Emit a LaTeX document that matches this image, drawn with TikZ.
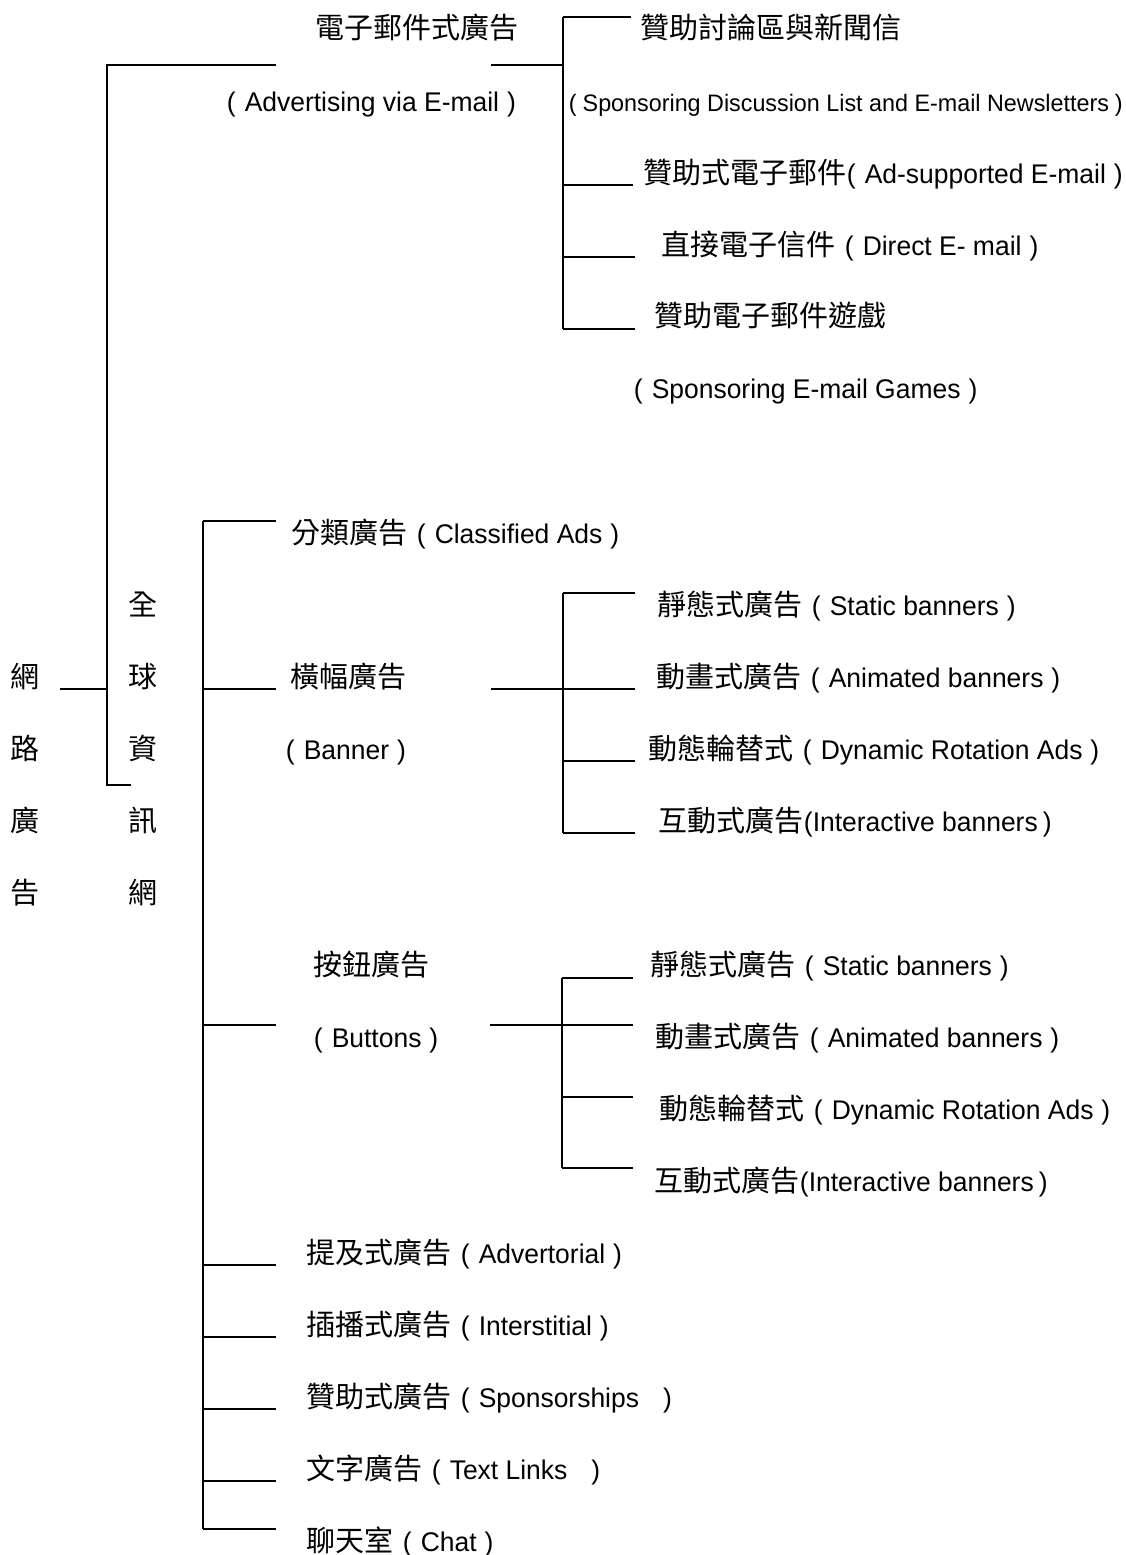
\documentclass[tikz,border=0pt]{standalone}
\usepackage{fontspec}
\setmainfont[FakeStretch=0.98]{Liberation Sans}
\newfontfamily\cjk{Noto Sans CJK TC}
\newcommand\zh[1]{{\cjk\fontsize{29}{34}\selectfont #1}}
\newcommand\LP{\hspace{9pt}(\hspace{9pt}}
\newcommand\LPo{(\hspace{9pt}}
\newcommand\RP{\hspace{8pt})}
\begin{document}
\begin{tikzpicture}[x=1pt,y=-1pt, line width=1.9pt,
  lbl/.style={anchor=west, inner sep=0pt, text height=21pt, text depth=0pt, font=\fontsize{27}{32}\selectfont},
  vch/.style={lbl, anchor=center}]
\useasboundingbox (0,0) rectangle (1126,1555);
% vertical titles
\foreach \y/\c [count=\i] in {677/網,749/路,821/廣,893/告} \node[vch] (n\i) at (25,\y) {\zh{\c}};
\foreach \y/\c [count=\i] in {605/全,677/球,749/資,821/訊,893/網} \node[vch] (w\i) at (143,\y) {\zh{\c}};
% e-mail branch
\node[lbl] (e0) at (315,28) {\zh{電子郵件式廣告}};
\node[lbl] (e0b) at (226,101) {\LPo Advertising via E-mail\RP};
\node[lbl] (e1) at (640,28) {\zh{贊助討論區與新聞信}};
\node[lbl,font=\fontsize{23.8}{29}\selectfont] (e1b) at (568,101) {(\hspace{6pt}Sponsoring Discussion List and E-mail Newsletters\hspace{6pt})};
\node[lbl] (e2) at (643,173) {\zh{贊助式電子郵件}(\hspace{9pt}Ad-supported E-mail\RP};
\node[lbl] (e3) at (661,245) {\zh{直接電子信件}\LP Direct E- mail\RP};
\node[lbl] (e4) at (654,316) {\zh{贊助電子郵件遊戲}};
\node[lbl] (e4b) at (633,388) {\LPo Sponsoring E-mail Games\RP};
% www branch
\node[lbl] (c1) at (291,533) {\zh{分類廣告}\LP Classified Ads\RP};
\node[lbl] (b0) at (290,677) {\zh{橫幅廣告}};
\node[lbl] (b0b) at (285,749) {\LPo Banner\RP};
\node[lbl] (b1) at (657,605) {\zh{靜態式廣告}\LP Static banners\RP};
\node[lbl] (b2) at (656,677) {\zh{動畫式廣告}\LP Animated banners\RP};
\node[lbl] (b3) at (648,749) {\zh{動態輪替式}\LP Dynamic Rotation Ads\RP};
\node[lbl] (b4) at (658,821) {\zh{互動式廣告}(Interactive banners\hspace{5pt})};
\node[lbl] (t0) at (313,965) {\zh{按鈕廣告}};
\node[lbl] (t0b) at (313,1037) {\LPo Buttons\RP};
\node[lbl] (t1) at (650,965) {\zh{靜態式廣告}\LP Static banners\RP};
\node[lbl] (t2) at (655,1037) {\zh{動畫式廣告}\LP Animated banners\RP};
\node[lbl] (t3) at (659,1109) {\zh{動態輪替式}\LP Dynamic Rotation Ads\RP};
\node[lbl] (t4) at (654,1181) {\zh{互動式廣告}(Interactive banners\hspace{5pt})};
\node[lbl] (a1) at (306,1253) {\zh{提及式廣告}\LP Advertorial\RP};
\node[lbl] (a2) at (306,1325) {\zh{插播式廣告}\LP Interstitial\RP};
\node[lbl] (a3) at (306,1397) {\zh{贊助式廣告}\LP Sponsorships\hspace{24pt})};
\node[lbl] (a4) at (306,1469) {\zh{文字廣告}\LP Text Links\hspace{24pt})};
\node[lbl] (a5) at (306,1541) {\zh{聊天室}\LP Chat\RP};
% connectors
\coordinate (rootL) at (60,689); \coordinate (rootJ) at (107,689);
\coordinate (topJ) at (107,65); \coordinate (botJ) at (107,785); \coordinate (botE) at (131,785);
\coordinate (emL) at (276,65); \coordinate (emR) at (491,65); \coordinate (emJ) at (563,65);
\draw (rootL) -- (rootJ);
\draw (emL) -- (topJ) -- (botJ) -- (botE);
\draw (emR) -- (emJ);
\coordinate (emT) at (563,17); \coordinate (emB) at (563,329);
\draw (emT) -- (emB);
\foreach \y/\e [count=\i] in {17/631,185/633,257/635,329/635}{
  \coordinate (eb\i) at (563,\y); \coordinate (ee\i) at (\e,\y); \draw (eb\i) -- (ee\i);}
% www bracket
\coordinate (wT) at (203,521); \coordinate (wB) at (203,1529);
\draw (wT) -- (wB);
\foreach \y [count=\i] in {521,689,1025,1265,1337,1409,1481,1529}{
  \coordinate (wb\i) at (203,\y); \coordinate (we\i) at (276,\y); \draw (wb\i) -- (we\i);}
% banner sub-bracket
\coordinate (bnL) at (491,689); \coordinate (bnJ) at (563,689);
\draw (bnL) -- (bnJ);
\coordinate (bnT) at (563,593); \coordinate (bnB) at (563,833);
\draw (bnT) -- (bnB);
\foreach \y [count=\i] in {593,689,761,833}{
  \coordinate (bb\i) at (563,\y); \coordinate (be\i) at (635,\y); \draw (bb\i) -- (be\i);}
% buttons sub-bracket
\coordinate (btL) at (490,1025); \coordinate (btJ) at (562,1025);
\draw (btL) -- (btJ);
\coordinate (btT) at (562,978); \coordinate (btB) at (562,1168);
\draw (btT) -- (btB);
\foreach \y [count=\i] in {978,1025,1097,1168}{
  \coordinate (tb\i) at (562,\y); \coordinate (te\i) at (633,\y); \draw (tb\i) -- (te\i);}
\end{tikzpicture}
\end{document}
